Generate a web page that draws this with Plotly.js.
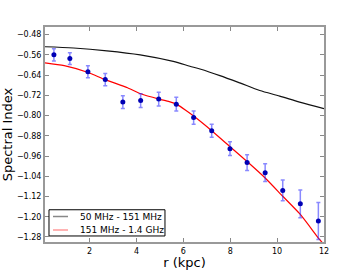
<!DOCTYPE html>
<html><head><meta charset="utf-8">
<script src="https://cdn.plot.ly/plotly-3.0.1.min.js"></script>
<style>html,body{margin:0;padding:0;background:#fff}#c{width:360px;height:270px}</style>
</head><body><div id="c"></div>
<script>
// Data points
const rData = [0.48, 1.16, 1.93, 2.67, 3.42, 4.18, 4.95, 5.70, 6.44, 7.21, 7.99, 8.72, 9.49, 10.24, 10.99, 11.76];
const alphaData = [-0.560, -0.575, -0.627, -0.658, -0.747, -0.741, -0.735, -0.755, -0.808, -0.860, -0.931, -0.986, -1.026, -1.096, -1.149, -1.217];
const alphaErr = [0.024, 0.023, 0.024, 0.024, 0.025, 0.027, 0.027, 0.027, 0.026, 0.026, 0.027, 0.031, 0.035, 0.041, 0.055, 0.073];
// Model curves
const rLow = [0.1, 1.32, 2.74, 4.16, 5.57, 6.28, 6.71, 7.56, 8.41, 9.26, 10.11, 10.96, 12];
const alphaLow = [-0.528, -0.533, -0.544, -0.560, -0.586, -0.605, -0.616, -0.642, -0.671, -0.701, -0.723, -0.747, -0.773];
const rHigh = [0.1, 0.92, 1.91, 2.67, 3.62, 4.19, 4.96, 5.4, 5.74, 6.1, 6.44, 7.21, 7.99, 8.72, 9.49, 10.24, 10.99, 11.8, 12];
const alphaHigh = [-0.592, -0.603, -0.629, -0.658, -0.690, -0.714, -0.735, -0.745, -0.757, -0.779, -0.802, -0.860, -0.923, -0.982, -1.047, -1.119, -1.191, -1.289, -1.31];
const labels = ["50 MHz - 151 MHz", "151 MHz - 1.4 GHz"];
const legendColors = ['#888888', '#ff9a9a'];

const traces = [
  {x: rLow, y: alphaLow, mode: 'lines', line: {color: '#111', width: 1.2, shape: 'spline', smoothing: 0.8}, showlegend: false},
  {x: rHigh, y: alphaHigh, mode: 'lines', line: {color: '#ff0000', width: 1.2, shape: 'spline', smoothing: 0.6}, showlegend: false},
  {x: rData, y: alphaData, mode: 'markers', marker: {color: '#0000b4', size: 5},
   error_y: {type: 'data', array: alphaErr, color: 'rgba(40,40,255,0.55)', thickness: 1.5, width: 2}, showlegend: false}
];

const axisCommon = {showgrid: false, zeroline: false, showline: true, linecolor: '#999', linewidth: 2, mirror: 'ticks',
  ticks: 'inside', ticklen: 4, tickcolor: '#888', tickwidth: 1, tickfont: {family: 'DejaVu Sans', size: 8, color: '#000'}};

// custom legend (matplotlib-like compact box)
const legBox = {x0: 0.0143, x1: 0.430, y0: 0.028, y1: 0.150};
const rowY = [0.1186, 0.0558];
const shapes = [{type: 'rect', xref: 'paper', yref: 'paper', x0: legBox.x0, x1: legBox.x1, y0: legBox.y0, y1: legBox.y1,
  fillcolor: '#fff', line: {color: '#000', width: 1}, layer: 'above'}];
const annotations = [];
labels.forEach((t, i) => {
  shapes.push({type: 'line', xref: 'paper', yref: 'paper', x0: 0.0287, x1: 0.0824, y0: rowY[i], y1: rowY[i],
    line: {color: legendColors[i], width: 1.5}, layer: 'above'});
  annotations.push({xref: 'paper', yref: 'paper', x: 0.118, y: rowY[i], xanchor: 'left', yanchor: 'middle', text: t,
    showarrow: false, font: {family: 'DejaVu Sans', size: 9, color: '#000'}});
});

const layout = {
  width: 360, height: 270,
  margin: {l: 45, r: 36, t: 27, b: 28},
  paper_bgcolor: '#fff', plot_bgcolor: '#fff',
  xaxis: Object.assign({}, axisCommon, {range: [0.1, 12], tick0: 0, dtick: 2,
    title: {text: 'r (kpc)', font: {family: 'DejaVu Sans', size: 13, color: '#000'}, standoff: 4}}),
  yaxis: Object.assign({}, axisCommon, {range: [-1.3, -0.45], tick0: -1.28, dtick: 0.08, tickformat: '.2f',
    title: {text: 'Spectral Index', font: {family: 'DejaVu Sans', size: 13, color: '#000'}, standoff: 7}}),
  showlegend: false,
  shapes: shapes,
  annotations: annotations
};

Plotly.newPlot('c', traces, layout, {displayModeBar: false, staticPlot: true});
</script></body></html>
